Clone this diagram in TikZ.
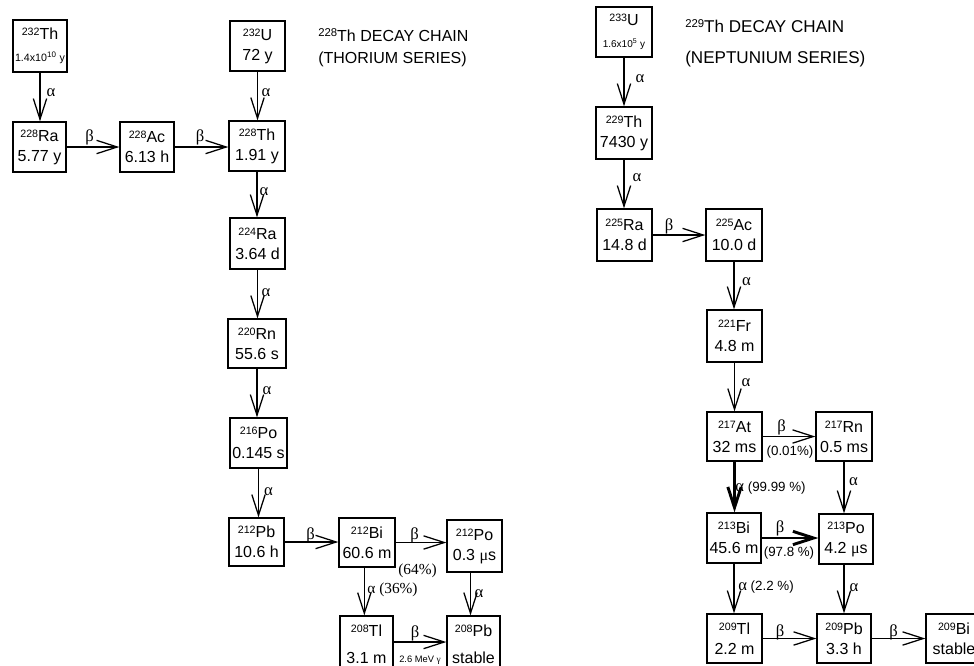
\documentclass[tikz,border=0pt]{standalone}
\usepackage{fontspec}
\setmainfont{Liberation Sans}
\newfontfamily\gkf{Liberation Serif}
\usetikzlibrary{arrows.meta}
\newcommand\iso[2]{\raisebox{3pt}{\fontsize{8}{8}\selectfont #1}#2}
\newcommand\isot[2]{\raisebox{3.2pt}{\fontsize{8.5}{8}\selectfont #1}#2}
\begin{document}
\begin{tikzpicture}[x=0.75pt,y=-0.75pt,
  nuc/.style 2 args={draw, line width=1pt, inner sep=0pt, align=center,
    minimum width=#1*0.75pt, minimum height=#2*0.75pt, font=\fontsize{12}{15}\selectfont},
  arr/.style={line width=0.95pt, -{Straight Barb[length=15.5pt,width=10pt]}},
  thk/.style={line width=2.2pt, -{Straight Barb[length=15.5pt,width=10pt]}},
  gk/.style={inner sep=0pt, font=\gkf\fontsize{12.5}{12}\selectfont},
  pc/.style={inner sep=0pt, font=\fontsize{10}{12}\selectfont},
  pcs/.style={inner sep=0pt, font=\gkf\fontsize{11.5}{12}\selectfont},
  ttl/.style={inner sep=0pt, anchor=base west, font=\fontsize{12}{15}\selectfont},
  ttr/.style={inner sep=0pt, anchor=base west, font=\fontsize{12.8}{15}\selectfont}
]
\useasboundingbox (0,0) rectangle (974,665);
\clip (0,0) rectangle (974,665);

% ---------- Thorium series ----------
\node[nuc={54}{52}] (th232) at (40,46) {\iso{232}{Th}\\[1.5pt]{\fontsize{8}{9}\selectfont 1.4x10\textsuperscript{10} y}};
\node[nuc={53}{50}] (ra228) at (39.5,147) {\iso{228}{Ra}\\5.77 y};
\node[nuc={54}{50}] (ac228) at (147,147) {\iso{228}{Ac}\\6.13 h};
\node[nuc={55}{50}] (u232) at (257.5,46) {\iso{232}{U}\\72 y};
\node[nuc={56}{50}] (th228) at (257,146) {\iso{228}{Th}\\1.91 y};
\node[nuc={55}{51}] (ra224) at (257.5,243.5) {\iso{224}{Ra}\\3.64 d};
\node[nuc={58}{49}] (rn220) at (257,343.5) {\iso{220}{Rn}\\55.6 s};
\node[nuc={57}{50}] (po216) at (258.5,443) {\iso{216}{Po}\\0.145 s};
\node[nuc={55}{48}] (pb212) at (256.5,542) {\iso{212}{Pb}\\10.6 h};
\node[nuc={56}{49}] (bi212) at (367,542.5) {\iso{212}{Bi}\\60.6 m};
\node[nuc={55}{52}] (po212) at (474.5,546) {\iso{212}{Po}\\0.3 {\gkf μ}s};
\node[nuc={53}{56}] (tl208) at (366.5,644) {\iso{208}{Tl}\\[5pt]3.1 m};
\node[nuc={53}{56}] (pb208) at (473.5,644) {\iso{208}{Pb}\\[5pt]stable};

\node[ttl] (t1a) at (318,41) {\isot{228}{Th} DECAY CHAIN};
\node[ttl] (t1b) at (318,63) {(THORIUM SERIES)};

\draw[arr] (th232.south) -- (th232.south |- ra228.north);
\draw[arr] (ra228.east) -- (ra228.east -| ac228.west);
\draw[arr] (ac228.east) -- (ac228.east -| th228.west);
\draw[arr] (u232.south) -- (u232.south |- th228.north);
\draw[arr] (th228.south) -- (th228.south |- ra224.north);
\draw[arr] (ra224.south) -- (ra224.south |- rn220.north);
\draw[arr] (rn220.south) -- (rn220.south |- po216.north);
\draw[arr] (po216.south) -- (po216.south |- pb212.north);
\draw[arr] (pb212.east) -- (pb212.east -| bi212.west);
\draw[arr] (bi212.east) -- (bi212.east -| po212.west);
\draw[arr] ([xshift=-2pt]bi212.south) -- ([xshift=-2pt]bi212.south |- tl208.north);
\draw[arr] ([xshift=-3pt]po212.south) -- ([xshift=-3pt]po212.south |- pb208.north);
\draw[arr] ([yshift=1.5pt]tl208.east) -- ([yshift=1.5pt]tl208.east -| pb208.west);

\node[gk] (a1) at (51,93) {α};
\node[gk] (b1) at (89.5,137.5) {β};
\node[gk] (b2) at (200,137.5) {β};
\node[gk] (a2) at (266,93) {α};
\node[gk] (a3) at (264,192) {α};
\node[gk] (a4) at (266,293) {α};
\node[gk] (a5) at (267,391) {α};
\node[gk] (a6) at (268.5,492) {α};
\node[gk] (b3) at (310.5,535.5) {β};
\node[gk] (b4) at (414.5,535.5) {β};
\node[pcs] (p64) at (417.5,571) {(64\%)};
\node[pcs] (p36) at (392.5,590) {α (36\%)};
\node[gk] (a7) at (479,593.5) {α};
\node[gk] (b5) at (415,633) {β};
\node[inner sep=0pt, font=\fontsize{7}{8}\selectfont] (mev) at (420,660) {2.6 MeV {\gkf γ}};

% ---------- Neptunium series ----------
\node[nuc={56}{50}] (u233) at (624,32) {\iso{233}{U}\\[1.5pt]{\fontsize{7.5}{9}\selectfont 1.6x10\textsuperscript{5} y}};
\node[nuc={56}{52}] (th229) at (624,133) {\iso{229}{Th}\\7430 y};
\node[nuc={55}{52}] (ra225) at (624.5,235) {\iso{225}{Ra}\\14.8 d};
\node[nuc={56}{52}] (ac225) at (734,235) {\iso{225}{Ac}\\10.0 d};
\node[nuc={55}{52}] (fr221) at (734.5,336) {\iso{221}{Fr}\\4.8 m};
\node[nuc={55}{49}] (at217) at (734.5,436.5) {\iso{217}{At}\\32 ms};
\node[nuc={56}{49}] (rn217) at (844,436.5) {\iso{217}{Rn}\\0.5 ms};
\node[nuc={54}{50}] (bi213) at (734,538) {\iso{213}{Bi}\\45.6 m};
\node[nuc={54}{50}] (po213) at (846,539) {\iso{213}{Po}\\4.2 {\gkf μ}s};
\node[nuc={55}{49}] (tl209) at (734.5,638.5) {\iso{209}{Tl}\\2.2 m};
\node[nuc={54}{49}] (pb209) at (844,638.5) {\iso{209}{Pb}\\3.3 h};
\node[nuc={56}{49}] (bi209) at (954,638.5) {\iso{209}{Bi}\\stable};

\node[ttr] (t2a) at (685,32) {\isot{229}{Th} DECAY CHAIN};
\node[ttr] (t2b) at (685,63) {(NEPTUNIUM SERIES)};

\draw[arr] (u233.south) -- (u233.south |- th229.north);
\draw[arr] (th229.south) -- (th229.south |- ra225.north);
\draw[arr] (ra225.east) -- (ra225.east -| ac225.west);
\draw[arr] (ac225.south) -- (ac225.south |- fr221.north);
\draw[arr] (fr221.south) -- (fr221.south |- at217.north);
\draw[arr] (at217.east) -- (at217.east -| rn217.west);
\draw[thk] (at217.south) -- (at217.south |- bi213.north);
\draw[arr] (rn217.south) -- (rn217.south |- po213.north);
\draw[thk] (bi213.east) -- (bi213.east -| po213.west);
\draw[arr] (bi213.south) -- (bi213.south |- tl209.north);
\draw[arr] (po213.south -| pb209.north) -- (pb209.north);
\draw[arr] (tl209.east) -- (tl209.east -| pb209.west);
\draw[arr] (pb209.east) -- (pb209.east -| bi209.west);

\node[gk] (a8) at (640,78.5) {α};
\node[gk] (a9) at (637,178) {α};
\node[gk] (b6) at (669,226.5) {β};
\node[gk] (a10) at (746.5,282) {α};
\node[gk] (a11) at (746,382.5) {α};
\node[gk] (b7) at (781.5,427) {β};
\node[pc] (p001) at (790,452) {(0.01\%)};
\node[pc] (p9999) at (770.5,488.5) {{\gkf\fontsize{12.5}{12}\selectfont α} (99.99 \%)};
\node[gk] (a12) at (853.5,481.5) {α};
\node[gk] (b8) at (780,528) {β};
\node[pc] (p978) at (789,553) {(97.8 \%)};
\node[pc] (p22) at (766,587) {{\gkf\fontsize{12.5}{12}\selectfont α} (2.2 \%)};
\node[gk] (a13) at (854,588) {α};
\node[gk] (b9) at (780,632) {β};
\node[gk] (b10) at (893.5,632) {β};
\end{tikzpicture}
\end{document}
